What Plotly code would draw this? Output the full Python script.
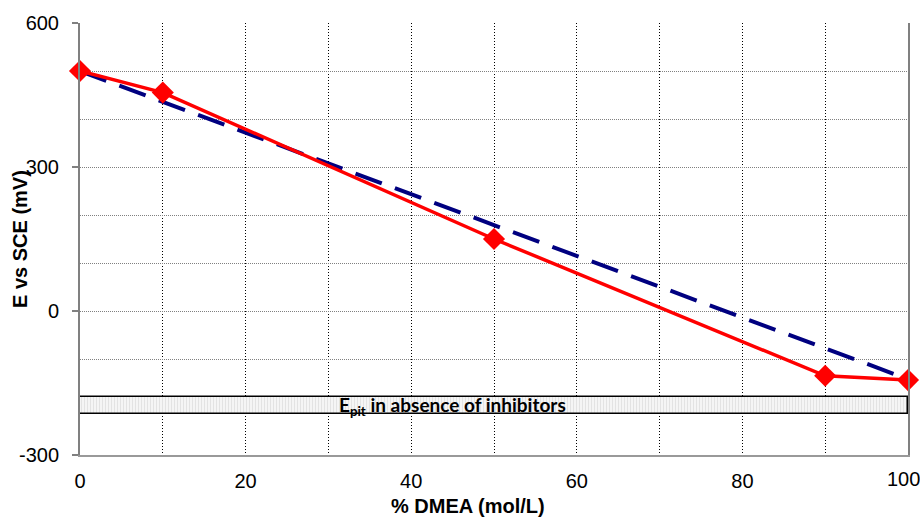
import plotly.graph_objects as go

# Data
dmea = [0, 10, 50, 90, 100]
e_measured = [500, 455, 150, -135, -144]
trend_x = [0, 100]
trend_y = [500, -142]
epit_low = -215
epit_high = -180
epit_label = "<b>E<sub>pit</sub> in absence of inhibitors</b>"
x_title = "% DMEA (mol/L)"
y_title = "E vs SCE (mV)"
x_ticks = [0, 20, 40, 60, 80, 100]
y_ticks = [-300, 0, 300, 600]
y_ticktext = ["-300", "0", "300", "600"]

fig = go.Figure()

# E_pit band as a bar from 0 to 100
fig.add_trace(go.Bar(
    x=[50], y=[epit_high - epit_low], base=[epit_low], width=[100],
    marker=dict(color="#f2f2f2",
                line=dict(color="black", width=1.5),
                pattern=dict(shape="|", fgcolor="#cccccc", bgcolor="#f5f5f5", size=3, solidity=0.3)),
    hoverinfo="skip", showlegend=False,
))

fig.add_trace(go.Scatter(
    x=trend_x, y=trend_y, mode="lines",
    line=dict(color="#000080", width=4, dash="28px,14px"),
    showlegend=False,
))

fig.add_trace(go.Scatter(
    x=dmea, y=e_measured, mode="lines+markers",
    line=dict(color="#ff0000", width=3.5),
    marker=dict(symbol="diamond", size=17, color="#ff0000"),
    showlegend=False, cliponaxis=False,
))

fig.add_annotation(x=45, y=(epit_low + epit_high) / 2, text=epit_label,
                   showarrow=False, xref="x", yref="y",
                   font=dict(family="Lato", size=19, color="black"))

# axis titles
fig.add_annotation(x=(468 - 80) / 828, y=(455 - 506) / 432, xref="paper", yref="paper",
                   text=f"<b>{x_title}</b>", showarrow=False, yanchor="middle",
                   font=dict(family="Liberation Sans", size=20, color="black"))
fig.add_annotation(x=(20 - 80) / 828, y=0.5, xref="paper", yref="paper",
                   text=f"<b>{y_title}</b>", showarrow=False, textangle=-90,
                   xanchor="center", yanchor="middle",
                   font=dict(family="Liberation Sans", size=20, color="black"))

# last x tick label, nudged inside the page
fig.add_annotation(x=x_ticks[-1], y=0, xref="x", yref="paper", text=str(x_ticks[-1]),
                   showarrow=False, yanchor="middle", yshift=-24, xshift=-5,
                   font=dict(family="Liberation Sans", size=20, color="black"))

fig.update_layout(
    width=920, height=517,
    margin=dict(l=80, r=12, t=23, b=62, autoexpand=False),
    paper_bgcolor="white", plot_bgcolor="white",
    font=dict(family="Liberation Sans", size=20, color="black"),
    bargap=0,
)

fig.update_xaxes(
    range=[0, 100], tickvals=x_ticks[:-1],
    showgrid=True, gridcolor="black", griddash="1px,2px", gridwidth=1,
    minor=dict(dtick=10, tick0=0, showgrid=True, gridcolor="black", griddash="1px,2px", gridwidth=1),
    showline=True, linecolor="#999999", linewidth=2,
    ticks="", ticklabelstandoff=7, automargin=False,
    zeroline=False,
)
fig.update_yaxes(
    range=[-300, 600], tickvals=y_ticks, ticktext=y_ticktext,
    showgrid=True, gridcolor="#808080", griddash="1px,1px", gridwidth=1,
    minor=dict(dtick=100, tick0=0, showgrid=True, gridcolor="#808080", griddash="1px,1px", gridwidth=1),
    showline=True, linecolor="#808080", linewidth=2, mirror=True,
    ticks="outside", ticklen=6, tickcolor="#808080", tickwidth=2, ticklabelstandoff=9,
    automargin=False,
    zeroline=False,
)

fig.write_html("out.html")
